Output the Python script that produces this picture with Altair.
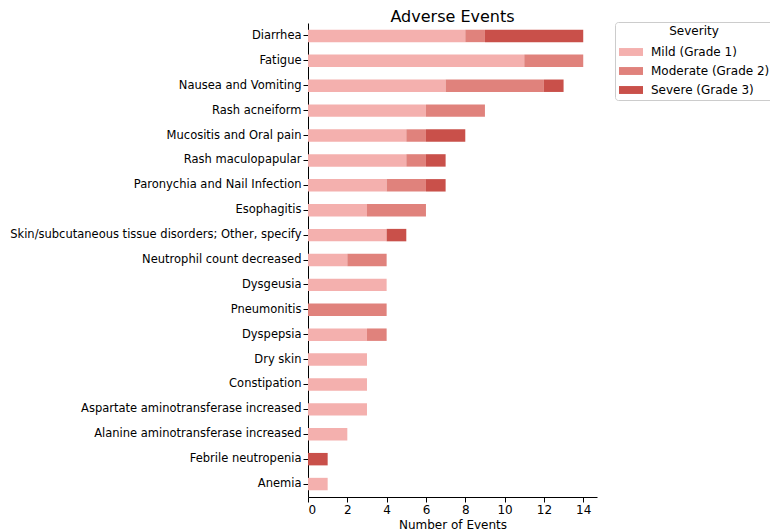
import altair as alt
import pandas as pd

categories = [
    "Diarrhea", "Fatigue", "Nausea and Vomiting", "Rash acneiform",
    "Mucositis and Oral pain", "Rash maculopapular", "Paronychia and Nail Infection",
    "Esophagitis", "Skin/subcutaneous tissue disorders; Other, specify",
    "Neutrophil count decreased", "Dysgeusia", "Pneumonitis", "Dyspepsia",
    "Dry skin", "Constipation", "Aspartate aminotransferase increased",
    "Alanine aminotransferase increased", "Febrile neutropenia", "Anemia",
]
mild =     [8, 11, 7, 6, 5, 5, 4, 3, 4, 2, 4, 0, 3, 3, 3, 3, 2, 0, 1]
moderate = [1, 3, 5, 3, 1, 1, 2, 3, 0, 2, 0, 4, 1, 0, 0, 0, 0, 0, 0]
severe =   [5, 0, 1, 0, 2, 1, 1, 0, 1, 0, 0, 0, 0, 0, 0, 0, 0, 1, 0]
severity_names = ["Mild (Grade 1)", "Moderate (Grade 2)", "Severe (Grade 3)"]
severity_colors = ["#f4b0ae", "#e0827c", "#c9504a"]
x_ticks = [0, 2, 4, 6, 8, 10, 12, 14]

rows = []
for i, c in enumerate(categories):
    for k, vals in enumerate([mild, moderate, severe]):
        if vals[i] > 0:
            rows.append({"event": c, "severity": severity_names[k], "order": k, "count": vals[i]})
df = pd.DataFrame(rows)

FONT = "DejaVu Sans"

chart = alt.Chart(df).mark_bar(strokeWidth=0).encode(
    y=alt.Y("event:N", sort=categories,
            scale=alt.Scale(paddingInner=0.5, paddingOuter=0.27),
            axis=alt.Axis(title=None, labelFontSize=11.5, labelColor="black", labelFont=FONT,
                          tickSize=5, tickColor="black", domainColor="black",
                          labelPadding=2, labelLimit=400)),
    x=alt.X("count:Q", stack="zero",
            scale=alt.Scale(domain=[0, 14.7], nice=False, zero=True),
            axis=alt.Axis(title="Number of Events", values=x_ticks, grid=False,
                          labelFontSize=12, labelColor="black", labelFont=FONT,
                          titleFontSize=12, titleFontWeight="normal", titleFont=FONT,
                          titleColor="black", tickSize=5, tickColor="black",
                          domainColor="black", titlePadding=4)),
    color=alt.Color("severity:N",
                    scale=alt.Scale(domain=severity_names, range=severity_colors),
                    legend=alt.Legend(title="Severity", orient="none", legendX=307, legendY=-1,
                                      titleAnchor="middle", titleFontSize=12,
                                      titleFontWeight="normal", titleFont=FONT, titleColor="black",
                                      labelFontSize=12, labelFont=FONT, labelColor="black",
                                      symbolType="M-1,-0.33H1V0.33H-1Z", symbolSize=576,
                                      symbolStrokeWidth=0, symbolOpacity=1,
                                      strokeColor="#cccccc", padding=4, cornerRadius=3,
                                      fillColor="white", rowPadding=1, labelOffset=8,
                                      titlePadding=2)),
    order=alt.Order("order:Q"),
).properties(
    width=289, height=474,
    title=alt.TitleParams("Adverse Events", fontSize=16, fontWeight="normal", font=FONT,
                          color="black", anchor="middle", offset=-3),
    autosize=alt.AutoSizeParams(type="none"),
    padding={"left": 300, "top": 15, "right": 173, "bottom": 34},
).configure_view(stroke=None)

chart.save("out.html", embed_options={"renderer": "svg", "actions": False})
